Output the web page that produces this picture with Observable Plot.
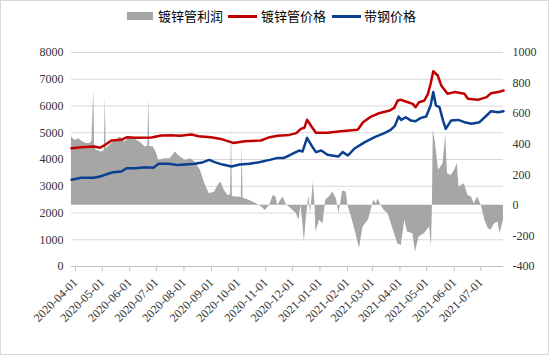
<!DOCTYPE html>
<html>
<head>
<meta charset="utf-8">
<script src="https://cdn.jsdelivr.net/npm/d3@7"></script>
<script src="https://cdn.jsdelivr.net/npm/@observablehq/plot@0.6"></script>
<style>
  html, body { margin: 0; padding: 0; background: #fff; }
  #wrap { position: relative; width: 549px; height: 355px; overflow: hidden; background: #fff; }
  #frame { position: absolute; left: 0; top: 0; width: 547px; height: 353px; border: 1px solid #d9d9d9; pointer-events: none; }
  #legend { position: absolute; left: 0; top: 0; width: 549px; height: 30px; font-family: "Noto Sans CJK SC", sans-serif; font-size: 13px; color: #000; }
  #legend .item { position: absolute; }
  #legend .txt { position: absolute; top: 7px; line-height: 18px; white-space: nowrap; }
  #chart { position: absolute; left: 0; top: 30px; }
</style>
</head>
<body>
<div id="wrap">
  <div id="legend"></div>
  <div id="chart"></div>
  <div id="frame"></div>
</div>
<script>
// ---- Data ----
const seriesNames = ["镀锌管利润", "镀锌管价格", "带钢价格"];

const pipeDates = ["2020-04-01","2020-04-12","2020-04-27","2020-05-03","2020-05-09","2020-05-16","2020-05-27","2020-06-02","2020-06-12","2020-06-30","2020-07-11","2020-07-22","2020-08-01","2020-08-14","2020-08-22","2020-09-05","2020-09-16","2020-09-30","2020-10-13","2020-10-31","2020-11-10","2020-11-19","2020-12-02","2020-12-10","2020-12-15","2020-12-19","2020-12-22","2020-12-27","2021-01-01","2021-01-14","2021-01-29","2021-02-17","2021-02-23","2021-03-04","2021-03-13","2021-03-25","2021-03-30","2021-04-03","2021-04-07","2021-04-12","2021-04-20","2021-04-23","2021-04-27","2021-05-03","2021-05-07","2021-05-10","2021-05-13","2021-05-18","2021-05-22","2021-05-29","2021-06-06","2021-06-17","2021-06-21","2021-07-02","2021-07-12","2021-07-17","2021-07-25","2021-07-31"];
const pipePrice = [4420,4460,4485,4440,4550,4710,4735,4830,4810,4820,4900,4910,4885,4935,4870,4835,4770,4620,4685,4710,4835,4885,4920,4985,5145,5185,5485,5235,5000,5000,5060,5110,5395,5605,5730,5830,5930,6205,6230,6170,6080,5955,6140,6205,6455,6830,7300,7140,6765,6455,6520,6455,6270,6230,6330,6480,6520,6580];

const stripDates = ["2020-04-01","2020-04-12","2020-04-26","2020-05-03","2020-05-12","2020-05-18","2020-05-27","2020-06-02","2020-06-12","2020-06-23","2020-07-02","2020-07-08","2020-07-19","2020-07-30","2020-08-18","2020-08-27","2020-09-03","2020-09-09","2020-09-18","2020-09-28","2020-10-07","2020-10-18","2020-10-29","2020-11-10","2020-11-19","2020-11-26","2020-12-02","2020-12-07","2020-12-13","2020-12-17","2020-12-22","2020-12-27","2021-01-01","2021-01-07","2021-01-14","2021-01-26","2021-01-31","2021-02-06","2021-02-13","2021-02-25","2021-03-08","2021-03-19","2021-03-26","2021-03-31","2021-04-04","2021-04-07","2021-04-12","2021-04-18","2021-04-23","2021-04-29","2021-05-05","2021-05-10","2021-05-13","2021-05-16","2021-05-20","2021-05-24","2021-05-27","2021-06-02","2021-06-10","2021-06-17","2021-06-25","2021-07-04","2021-07-12","2021-07-17","2021-07-25","2021-07-31"];
const stripPrice = [3240,3315,3315,3365,3465,3525,3550,3675,3675,3710,3690,3840,3840,3790,3840,3900,3985,3900,3810,3740,3810,3840,3900,3985,4060,4060,4150,4240,4335,4300,4810,4525,4275,4335,4175,4110,4275,4150,4400,4650,4835,4985,5110,5270,5605,5480,5580,5455,5430,5555,5605,6020,6520,6020,5955,5455,5145,5455,5480,5395,5335,5395,5645,5805,5770,5805];

const profitDates = ["2020-04-01","2020-04-05","2020-04-09","2020-04-14","2020-04-18","2020-04-22","2020-04-24","2020-04-26","2020-04-27","2020-04-29","2020-05-05","2020-05-08","2020-05-09","2020-05-10","2020-05-12","2020-05-20","2020-05-26","2020-05-31","2020-06-06","2020-06-12","2020-06-17","2020-06-23","2020-06-26","2020-06-27","2020-06-28","2020-07-02","2020-07-06","2020-07-08","2020-07-15","2020-07-21","2020-07-27","2020-07-30","2020-08-07","2020-08-13","2020-08-18","2020-08-24","2020-08-29","2020-09-03","2020-09-09","2020-09-13","2020-09-16","2020-09-20","2020-09-24","2020-09-27","2020-09-28","2020-09-29","2020-10-02","2020-10-07","2020-10-09","2020-10-10","2020-10-11","2020-10-13","2020-10-18","2020-10-26","2020-11-01","2020-11-05","2020-11-10","2020-11-14","2020-11-17","2020-11-19","2020-11-25","2020-11-29","2020-12-02","2020-12-04","2020-12-10","2020-12-13","2020-12-15","2020-12-17","2020-12-19","2020-12-21","2020-12-24","2020-12-26","2020-12-29","2020-12-31","2021-01-01","2021-01-05","2021-01-09","2021-01-12","2021-01-16","2021-01-20","2021-01-24","2021-01-27","2021-01-31","2021-02-04","2021-02-06","2021-02-11","2021-02-15","2021-02-19","2021-02-23","2021-03-01","2021-03-04","2021-03-07","2021-03-10","2021-03-12","2021-03-15","2021-03-19","2021-03-23","2021-03-28","2021-04-03","2021-04-07","2021-04-11","2021-04-14","2021-04-20","2021-04-23","2021-04-27","2021-05-03","2021-05-09","2021-05-11","2021-05-12","2021-05-13","2021-05-15","2021-05-19","2021-05-24","2021-05-27","2021-05-29","2021-06-02","2021-06-06","2021-06-09","2021-06-11","2021-06-17","2021-06-21","2021-06-25","2021-06-28","2021-07-02","2021-07-06","2021-07-10","2021-07-14","2021-07-17","2021-07-21","2021-07-25","2021-07-27","2021-07-31"];
const profit = [447,425,436,414,404,405,420,752,380,360,349,360,708,370,381,425,447,414,447,430,414,381,390,708,385,381,338,294,305,305,349,327,294,305,283,229,142,76,87,131,153,98,65,70,502,60,54,54,50,393,48,44,33,11,-11,-33,0,65,54,0,54,0,-11,-22,-54,-98,0,-100,-240,-98,65,-54,153,0,-174,-98,-120,33,54,87,44,-54,94,87,0,-98,-185,-283,-142,-98,-33,33,11,44,0,-33,-54,-142,-251,-262,-98,-174,-185,-305,-207,-185,-142,-273,0,491,425,229,273,458,207,196,229,273,120,142,65,54,11,54,0,-98,-153,-163,-120,-109,-185,-98];

const xTickLabels = ["2020-04-01","2020-05-01","2020-06-01","2020-07-01","2020-08-01","2020-09-01","2020-10-01","2020-11-01","2020-12-01","2021-01-01","2021-02-01","2021-03-01","2021-04-01","2021-05-01","2021-06-01","2021-07-01"];
const leftTicks = [0,1000,2000,3000,4000,5000,6000,7000,8000];
const rightTicks = [-400,-200,0,200,400,600,800,1000];

// ---- Build tables ----
const parse = d3.utcParse("%Y-%m-%d");
const pipeRows = pipeDates.map((d, i) => ({date: parse(d), v: pipePrice[i]}));
const stripRows = stripDates.map((d, i) => ({date: parse(d), v: stripPrice[i]}));
const profitRows = profitDates.map((d, i) => ({date: parse(d), v: profit[i]}));
const xTicks = xTickLabels.map(parse);

// secondary (right) axis mapped onto the left scale
const L0 = leftTicks[0], L1 = leftTicks[leftTicks.length - 1];
const R0 = rightTicks[0], R1 = rightTicks[rightTicks.length - 1];
const toLeft = r => L0 + (r - R0) * (L1 - L0) / (R1 - R0);
const fromLeft = l => R0 + (l - L0) * (R1 - R0) / (L1 - L0);

const RED = "#C00000", BLUE = "#0B3F8F", GREY = "#A6A6A6";
const serif = "'Liberation Serif', 'Times New Roman', serif";

const chart = Plot.plot({
  width: 549,
  height: 325,
  marginLeft: 71,
  marginRight: 46,
  marginTop: 22,
  marginBottom: 89,
  style: {fontFamily: serif, fontSize: "12px", color: "#333", background: "transparent", overflow: "visible"},
  x: {type: "utc", domain: [parse("2020-04-01"), parse("2021-07-31")]},
  y: {domain: [L0, L1]},
  marks: [
    Plot.gridY(leftTicks, {stroke: "#d9d9d9", strokeOpacity: 1, strokeWidth: 1}),
    Plot.areaY(profitRows, {x: "date", y1: toLeft(0), y2: d => toLeft(d.v), fill: GREY, curve: "linear"}),
    Plot.ruleY([L0], {stroke: "#bfbfbf", strokeWidth: 1}),
    Plot.lineY(pipeRows, {x: "date", y: "v", stroke: RED, strokeWidth: 2.5, curve: "linear"}),
    Plot.lineY(stripRows, {x: "date", y: "v", stroke: BLUE, strokeWidth: 2.5, curve: "linear"}),
    Plot.axisY(leftTicks, {anchor: "left", tickSize: 0, tickPadding: 8, label: null, fill: "#333",
      tickFormat: d => String(d)}),
    Plot.axisY(rightTicks.map(toLeft), {anchor: "right", tickSize: 0, tickPadding: 9, label: null, fill: "#333",
      tickFormat: d => String(Math.round(fromLeft(d)))}),
    Plot.axisX(xTicks, {anchor: "bottom", tickRotate: -45, tickSize: 5, tickPadding: 9, stroke: "#bfbfbf", label: null,
      fill: "#333", dx: 4, tickFormat: d3.utcFormat("%Y-%m-%d")})
  ]
});
document.getElementById("chart").appendChild(chart);

// ---- Legend (HTML, above the SVG) ----
const legend = document.getElementById("legend");
const items = [
  {name: seriesNames[0], kind: "box", color: GREY, symX: 127, symW: 26, txtX: 158},
  {name: seriesNames[1], kind: "line", color: RED, symX: 228, symW: 29, txtX: 261},
  {name: seriesNames[2], kind: "line", color: BLUE, symX: 332, symW: 29, txtX: 364}
];
items.forEach(it => {
  const s = document.createElement("div");
  s.className = "item";
  s.style.left = it.symX + "px";
  s.style.width = it.symW + "px";
  s.style.background = it.color;
  if (it.kind === "box") { s.style.top = "12px"; s.style.height = "8px"; }
  else { s.style.top = "15px"; s.style.height = "2.5px"; }
  legend.appendChild(s);
  const t = document.createElement("div");
  t.className = "txt";
  t.style.left = it.txtX + "px";
  t.textContent = it.name;
  legend.appendChild(t);
});
</script>
</body>
</html>
